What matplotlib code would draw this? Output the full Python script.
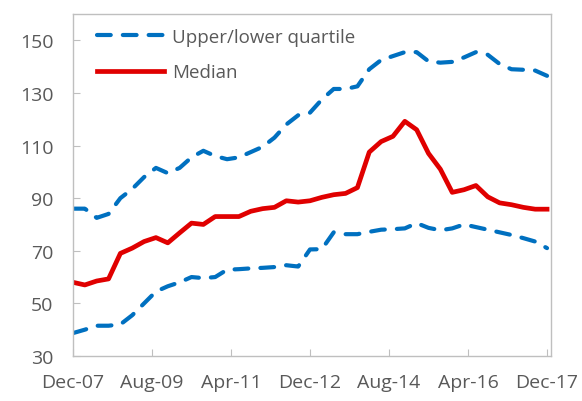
import matplotlib
matplotlib.use("Agg")
import matplotlib.pyplot as plt
import numpy as np

plt.rcParams['font.family'] = ['Open Sans', 'DejaVu Sans']

# quarterly, Dec-07 .. Dec-17
months = np.arange(0, 121, 3)
upper = [86, 86, 82.5, 84, 90, 93.5, 98, 101.5, 99.5, 101.5,
         105.5, 108, 106, 104.8, 105.5, 107.5, 109.5, 113, 118, 121.5,
         122.5, 127.5, 131.5, 131.5, 132.5, 139, 142.5, 144, 145.5, 145.5,
         142, 141.5, 141.8, 143.5, 145.5, 144.5, 141, 139, 138.8, 138.5,
         136.5]
median = [58, 57, 58.5, 59.3, 69, 71, 73.5, 75, 73, 76.8,
          80.5, 80, 83, 83, 83, 85, 86, 86.5, 89, 88.5,
          89, 90.3, 91.3, 91.8, 94, 107.5, 111.5, 113.5, 119.2, 116,
          107, 101, 92.2, 93.2, 94.8, 90.5, 88.2, 87.5, 86.5, 85.8,
          85.8]
lower = [38.7, 40, 41.5, 41.5, 42, 45.5, 50, 54.5, 56.5, 58,
         60, 59.6, 60, 62.8, 63, 63.3, 63.5, 63.8, 64.5, 64,
         70.5, 70.6, 77, 76.3, 76.3, 77.2, 78, 78.2, 78.5, 80.5,
         78.7, 77.8, 78.5, 80, 79, 78, 77, 76, 74.8, 73.5,
         71]

tick_months = [0, 20, 40, 60, 80, 100, 120]
tick_labels = ['Dec-07', 'Aug-09', 'Apr-11', 'Dec-12', 'Aug-14', 'Apr-16', 'Dec-17']

blue = '#0070C0'
red = '#E00000'
grey = '#595959'

fig = plt.figure(figsize=(5.82, 4.02), dpi=100)
ax = fig.add_axes([0.1254, 0.112, 0.8213, 0.8507])

ax.plot(months, upper, color=blue, lw=3, dashes=(3.3, 2.9),
        dash_capstyle='round', label='Upper/lower quartile')
ax.plot(months, lower, color=blue, lw=3, dashes=(3.3, 2.9), dash_capstyle='round')
ax.plot(months, median, color=red, lw=3.4, label='Median')

ax.set_xlim(0, 121)
ax.set_ylim(30, 160)
ax.set_yticks(np.arange(30, 151, 20))
ax.set_xticks(tick_months)
ax.set_xticklabels(tick_labels)

for s in ax.spines.values():
    s.set_color('#BFBFBF')
    s.set_linewidth(1)
ax.tick_params(direction='in', length=5, color='#BFBFBF', labelsize=14,
               labelcolor=grey)
ax.tick_params(axis='y', pad=14)
ax.tick_params(axis='x', pad=12)

leg = ax.legend(loc='upper left', bbox_to_anchor=(0.05, 0.96), frameon=False,
                fontsize=13.5, handlelength=3.6, borderaxespad=0, borderpad=0,
                labelspacing=0.95, handletextpad=0.43)
for t in leg.get_texts():
    t.set_color(grey)

plt.savefig('out.png', dpi=100)
